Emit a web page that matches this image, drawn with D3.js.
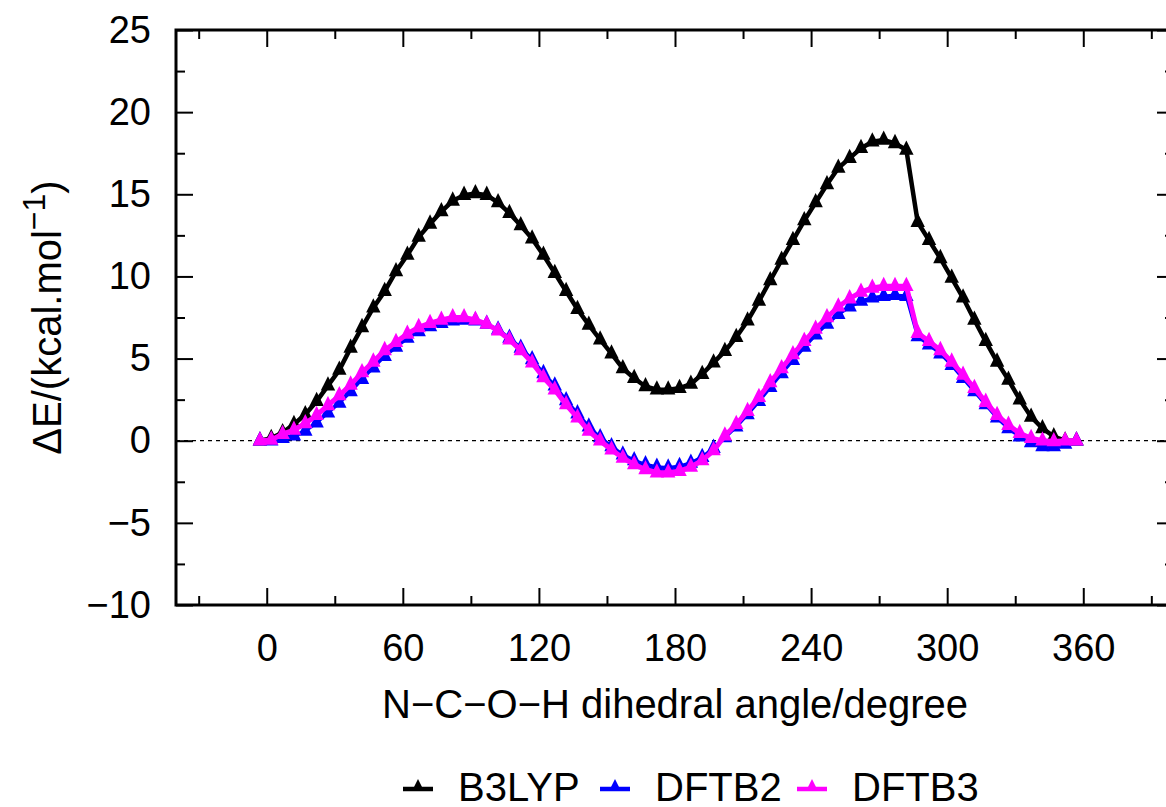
<!DOCTYPE html>
<html>
<head>
<meta charset="utf-8">
<script src="https://cdnjs.cloudflare.com/ajax/libs/d3/7.8.5/d3.min.js"></script>
<style>
  body { margin: 0; overflow: hidden; background: #fff; }
  text { font-family: "Liberation Sans", Arial, Helvetica, sans-serif; }
</style>
</head>
<body>
<div id="container"></div>
<script>
// scan angles (deg) and relative energies (kcal/mol)
var angles = [-3, 2, 7, 12, 17, 22, 27, 32, 37, 42, 47, 52, 57, 62, 67, 72, 77, 82, 87, 92,
  97, 102, 107, 112, 117, 122, 127, 132, 137, 142, 147, 152, 157, 162, 167, 172, 177, 182,
  187, 192, 197, 202, 207, 212, 217, 222, 227, 232, 237, 242, 247, 252, 257, 262, 267, 272,
  277, 282, 287, 292, 297, 302, 307, 312, 317, 322, 327, 332, 337, 342, 347, 352, 357];

var b3lyp = [0, 0.15, 0.5, 1.0, 1.6, 2.4, 3.35, 4.3, 5.65, 6.9, 8.1, 9.1, 10.3, 11.3, 12.4, 13.2,
  13.95, 14.6, 14.95, 15.05, 14.95, 14.5, 13.85, 13.1, 12.3, 11.3, 10.2, 9.1, 8.0, 7.05, 6.15,
  5.3, 4.4, 3.8, 3.3, 3.1, 3.1, 3.2, 3.45, 4.05, 4.75, 5.45, 6.3, 7.3, 8.5, 9.75, 11.0, 12.2,
  13.4, 14.5, 15.6, 16.6, 17.2, 17.8, 18.2, 18.3, 18.1, 17.7, 13.3, 12.2, 11.1, 9.9, 8.7, 7.35,
  6.05, 4.8, 3.7, 2.5, 1.45, 0.75, 0.25, 0.0, 0];

var dftb2 = [0, 0.0, 0.15, 0.3, 0.6, 1.1, 1.7, 2.3, 3.0, 3.75, 4.45, 5.15, 5.7, 6.25, 6.65, 6.95,
  7.15, 7.3, 7.35, 7.3, 7.1, 6.75, 6.25, 5.65, 4.95, 4.1, 3.35, 2.45, 1.65, 0.85, 0.2, -0.35,
  -0.85, -1.2, -1.45, -1.6, -1.65, -1.55, -1.35, -1.0, -0.45, 0.2, 0.85, 1.6, 2.4, 3.25, 4.1,
  4.9, 5.7, 6.45, 7.1, 7.7, 8.15, 8.5, 8.7, 8.8, 8.85, 8.8, 6.35, 5.85, 5.3, 4.6, 3.8, 3.0,
  2.2, 1.4, 0.75, 0.25, -0.1, -0.35, -0.35, -0.2, 0];

var dftb3 = [0, 0.05, 0.4, 0.65, 1.05, 1.55, 2.15, 2.75, 3.4, 4.15, 4.8, 5.5, 6.0, 6.5, 6.9, 7.15,
  7.35, 7.5, 7.5, 7.35, 7.1, 6.7, 6.15, 5.5, 4.75, 3.85, 3.1, 2.2, 1.4, 0.6, 0.0, -0.55,
  -1.05, -1.45, -1.75, -1.95, -1.95, -1.85, -1.6, -1.2, -0.6, 0.3, 1.0, 1.8, 2.65, 3.55, 4.4,
  5.25, 6.05, 6.8, 7.5, 8.15, 8.65, 9.05, 9.3, 9.4, 9.4, 9.4, 6.55, 6.05, 5.5, 4.8, 4.0, 3.2,
  2.35, 1.55, 0.95, 0.45, 0.15, 0.0, -0.05, 0.0, 0];

var seriesNames = ['B3LYP', 'DFTB2', 'DFTB3'];
var seriesColors = ['#000000', '#0000ff', '#ff00ff'];
var seriesValues = [b3lyp, dftb2, dftb3];

var xMajor = [0, 60, 120, 180, 240, 300, 360];
var xMinor = [-30, 30, 90, 150, 210, 270, 330, 390];
var yMajor = [-10, -5, 0, 5, 10, 15, 20, 25];
var yMinor = [-7.5, -2.5, 2.5, 7.5, 12.5, 17.5, 22.5];

(function() {
  var W = 1166, H = 807;
  var mL = 176, mR = 1174, mT = 30, mB = 605;
  var fontSize = 38, titleSize = 40;

  var svg = d3.select('#container').append('svg')
    .attr('width', W).attr('height', H);

  var x = d3.scaleLinear().domain([-40, 400]).range([mL, mR]);
  var y = d3.scaleLinear().domain([-10, 25]).range([mB, mT]);

  // zero line
  svg.append('line')
    .attr('x1', mL).attr('x2', mR)
    .attr('y1', y(0)).attr('y2', y(0))
    .attr('stroke', '#000').attr('stroke-width', 1.2)
    .attr('stroke-dasharray', '4,4');

  // ticks, gnuplot style (inside, mirrored)
  function tickAxis(axisFn, scale, vals, size, tx, ty, fmt, pad) {
    var g = svg.append('g').attr('transform', 'translate(' + tx + ',' + ty + ')')
      .call(axisFn(scale).tickValues(vals).tickSize(-size).tickPadding(pad || 0)
        .tickFormat(fmt || ''));
    g.select('.domain').remove();
    g.selectAll('line').attr('stroke', '#000').attr('stroke-width', 2);
    return g;
  }

  var xb = tickAxis(d3.axisBottom, x, xMajor, 17, 0, mB, d3.format('d'), 29);
  tickAxis(d3.axisBottom, x, xMinor, 9, 0, mB);
  tickAxis(d3.axisTop, x, xMajor, 17, 0, mT);
  tickAxis(d3.axisTop, x, xMinor, 9, 0, mT);
  var yl = tickAxis(d3.axisLeft, y, yMajor, 17, mL, 0, d3.format('d'), 25);
  tickAxis(d3.axisLeft, y, yMinor, 9, mL, 0);
  tickAxis(d3.axisRight, y, yMajor, 17, mR, 0);
  tickAxis(d3.axisRight, y, yMinor, 9, mR, 0);

  [xb, yl].forEach(function(g) {
    g.selectAll('text').attr('font-size', fontSize).attr('fill', '#000')
      .style('font-family', '"Liberation Sans", Arial, sans-serif');
  });

  // frame
  svg.append('rect')
    .attr('x', mL).attr('y', mT)
    .attr('width', mR - mL).attr('height', mB - mT)
    .attr('fill', 'none').attr('stroke', '#000').attr('stroke-width', 3);

  // series
  var tri = 'M0,-9.5L7.2,4.8L-7.2,4.8Z';
  var lineGen = d3.line()
    .x(function(d) { return x(d[0]); })
    .y(function(d) { return y(d[1]); });

  var widths = [4.5, 3.5, 5];
  seriesValues.forEach(function(vals, i) {
    var pts = angles.map(function(a, j) { return [a, vals[j]]; });
    svg.append('path').datum(pts)
      .attr('d', lineGen)
      .attr('fill', 'none')
      .attr('stroke', seriesColors[i])
      .attr('stroke-width', widths[i]);
    svg.append('g').selectAll('path').data(pts).enter()
      .append('path')
      .attr('d', tri)
      .attr('transform', function(d) { return 'translate(' + x(d[0]) + ',' + y(d[1]) + ')'; })
      .attr('fill', seriesColors[i]);
  });

  // axis titles
  svg.append('text')
    .attr('x', (mL + mR) / 2).attr('y', 718)
    .attr('text-anchor', 'middle').attr('font-size', titleSize)
    .text('N\u2212C\u2212O\u2212H dihedral angle/degree');

  var yt = svg.append('text')
    .attr('transform', 'translate(61,' + ((mT + mB) / 2) + ') rotate(-90)')
    .attr('text-anchor', 'middle').attr('font-size', titleSize);
  yt.append('tspan').text('\u0394E/(kcal.mol');
  yt.append('tspan').attr('dy', -16).attr('font-size', titleSize * 0.8).text('\u22121');
  yt.append('tspan').attr('dy', 16).text(')');

  // legend
  var legTri = 'M0,-8L6,4L-6,4Z';
  var legX = [403, 600, 797];
  seriesNames.forEach(function(name, i) {
    var g = svg.append('g');
    g.append('line')
      .attr('x1', legX[i]).attr('x2', legX[i] + 30)
      .attr('y1', 789).attr('y2', 789)
      .attr('stroke', seriesColors[i]).attr('stroke-width', 4.5);
    g.append('path').attr('d', legTri)
      .attr('transform', 'translate(' + (legX[i] + 15) + ',787)')
      .attr('fill', seriesColors[i]);
    g.append('text')
      .attr('x', legX[i] + 55).attr('y', 801)
      .attr('font-size', titleSize)
      .text(name);
  });
})();
</script>
</body>
</html>
